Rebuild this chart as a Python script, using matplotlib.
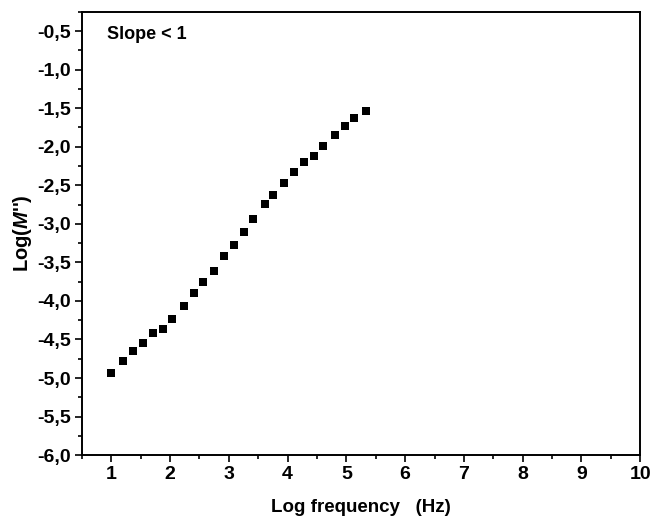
import matplotlib
matplotlib.use("Agg")
import matplotlib.pyplot as plt
from matplotlib.ticker import MultipleLocator, FuncFormatter

log_freq = [0.995, 1.204, 1.369, 1.539, 1.703, 1.873, 2.038, 2.230, 2.400, 2.565,
            2.752, 2.917, 3.087, 3.251, 3.416, 3.615, 3.751, 3.943, 4.108, 4.278,
            4.442, 4.607, 4.806, 4.969, 5.134, 5.326]
log_M = [-4.94, -4.774, -4.648, -4.544, -4.417, -4.362, -4.235, -4.066, -3.893, -3.750,
         -3.607, -3.412, -3.273, -3.104, -2.935, -2.740, -2.629, -2.466, -2.329, -2.203,
         -2.116, -1.986, -1.848, -1.731, -1.631, -1.540]

plt.rcParams['font.family'] = ['Liberation Sans', 'DejaVu Sans']
plt.rcParams['mathtext.fontset'] = 'custom'
plt.rcParams['mathtext.it'] = 'Liberation Sans:italic:bold'
plt.rcParams['mathtext.rm'] = 'Liberation Sans:bold'

fig = plt.figure(figsize=(6.5, 5.16), dpi=100)
ax = fig.add_axes([0.126, 0.118, 0.859, 0.859])

ax.plot(log_freq, log_M, linestyle='none', marker='s', markersize=5.8,
        color='black', markeredgewidth=0)

ax.set_xlim(0.5, 10)
ax.set_ylim(-6.0, -0.25)
ax.xaxis.set_major_locator(MultipleLocator(1))
ax.xaxis.set_minor_locator(MultipleLocator(0.5))
ax.yaxis.set_major_locator(MultipleLocator(0.5))
ax.yaxis.set_minor_locator(MultipleLocator(0.25))
ax.yaxis.set_major_formatter(FuncFormatter(lambda v, p: f"{v:.1f}".replace('.', ',')))
ax.xaxis.set_major_formatter(FuncFormatter(lambda v, p: f"{int(round(v))}"))

ax.tick_params(which='both', direction='out', top=False, right=False, width=1.2)
ax.tick_params(which='major', length=5, labelsize=14, pad=3)
ax.tick_params(which='minor', length=3)
for lab in ax.get_xticklabels() + ax.get_yticklabels():
    lab.set_fontweight('bold')
for s in ax.spines.values():
    s.set_linewidth(1.4)

ax.set_xlabel("Log frequency   (Hz)", fontsize=13.5, fontweight='bold', labelpad=11)
ax.set_ylabel(r"Log($\mathit{M}$'')", fontsize=14.5, fontweight='bold', labelpad=2)

ax.text(0.045, 0.948, "Slope < 1", transform=ax.transAxes, fontsize=13,
        fontweight='bold', va='center', ha='left')

fig.savefig("out.png", dpi=100)
